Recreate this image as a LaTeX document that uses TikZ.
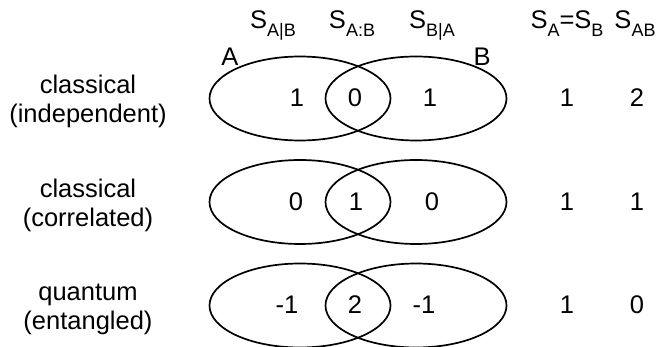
\documentclass[tikz,border=0pt]{standalone}
\usepackage{fontspec}
\setmainfont{Liberation Sans}
\usetikzlibrary{shapes.geometric}
\newcommand\SubS[1]{S\raisebox{-7.5pt}{\fontsize{18}{18}\selectfont #1}}
\begin{document}
\begin{tikzpicture}[x=1pt,y=-1pt,
  txt/.style={font=\fontsize{25.5}{29}\selectfont, inner sep=0pt, anchor=base},
  lbl/.style={font=\fontsize{25.5}{29}\selectfont, inner sep=0pt, align=center, anchor=base},
  set/.style={draw, line width=1.7pt, ellipse, minimum width=181pt, minimum height=84pt, inner sep=0pt}]
\useasboundingbox (0,0) rectangle (667,347);
% headers
\node[txt] (h1) at (273,29) {\SubS{A|B}};
\node[txt] (h2) at (352,29) {\SubS{A:B}};
\node[txt] (h3) at (432,29) {\SubS{B|A}};
\node[txt] (h4) at (567,29) {\SubS{A}=\SubS{B}};
\node[txt] (h5) at (635,29) {\SubS{AB}};
% set labels
\node[txt] (la) at (230,66) {A};
\node[txt] (lb) at (482,66) {B};
% row 1
\node[lbl] (r1a) at (88,94) {classical};
\node[lbl] (r1b) at (88,123) {(independent)};
\node[set] (e1a) at (300,98.5) {};
\node[set] (e1b) at (416,98.5) {};
\node[txt] (n11) at (297,107) {1};
\node[txt] (n12) at (355,107) {0};
\node[txt] (n13) at (430,107) {1};
\node[txt] (n14) at (567,107) {1};
\node[txt] (n15) at (637,107) {2};
% row 2
\node[lbl] (r2a) at (88,197.5) {classical};
\node[lbl] (r2b) at (88,226.5) {(correlated)};
\node[set] (e2a) at (300,202) {};
\node[set] (e2b) at (416,202) {};
\node[txt] (n21) at (296,210.5) {0};
\node[txt] (n22) at (356,210.5) {1};
\node[txt] (n23) at (432,210.5) {0};
\node[txt] (n24) at (567,210.5) {1};
\node[txt] (n25) at (637,210.5) {1};
% row 3
\node[lbl] (r3a) at (88,301) {quantum};
\node[lbl] (r3b) at (88,330) {(entangled)};
\node[set] (e3a) at (300,305.5) {};
\node[set] (e3b) at (416,305.5) {};
\node[txt] (n31) at (287,314) {-1};
\node[txt] (n32) at (355,314) {2};
\node[txt] (n33) at (424,314) {-1};
\node[txt] (n34) at (567,314) {1};
\node[txt] (n35) at (637,314) {0};
\end{tikzpicture}
\end{document}
